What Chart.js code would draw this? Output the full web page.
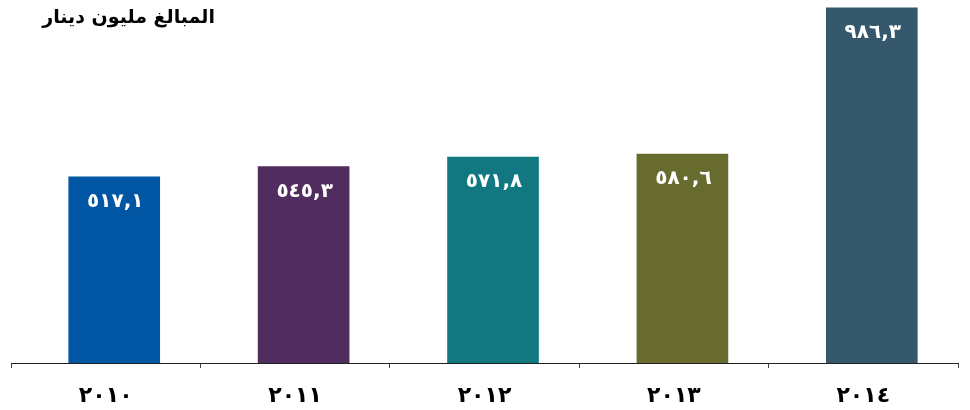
<!DOCTYPE html>
<html>
<head>
<meta charset="utf-8">
<script src="https://cdn.jsdelivr.net/npm/chart.js@4"></script>
<style>
  html, body { margin: 0; padding: 0; background: #ffffff; }
  #wrap { width: 970px; height: 410px; }
</style>
</head>
<body>
<div id="wrap"><canvas id="c" width="970" height="410"></canvas></div>
<script>
// Amounts in million dinars per year
const years = ['٢٠١٠', '٢٠١١', '٢٠١٢', '٢٠١٣', '٢٠١٤'];
const amounts = [517.1, 545.3, 571.8, 580.6, 986.3];
const barColors = ['#0056a2', '#512d5f', '#117882', '#676c2e', '#36586d'];
const unitTitle = 'المبالغ مليون دينار';

const AR_DIGITS = '٠١٢٣٤٥٦٧٨٩';
function toArabicNumber(v) {
  return v.toFixed(1).replace(/[0-9]/g, d => AR_DIGITS[+d]).replace('.', ',');
}

// Value labels inside the top of each bar, plus the unit caption
const barLabels = {
  id: 'barLabels',
  afterDatasetsDraw(chart) {
    const ctx = chart.ctx;
    const meta = chart.getDatasetMeta(0);
    ctx.save();
    ctx.fillStyle = '#ffffff';
    ctx.font = 'bold 20px "DejaVu Sans"';
    ctx.letterSpacing = '2px';
    ctx.textAlign = 'center';
    ctx.textBaseline = 'middle';
    meta.data.forEach((bar, i) => {
      ctx.fillText(toArabicNumber(amounts[i]), bar.x + 1, bar.y + 25);
    });
    ctx.restore();
  },
  afterDraw(chart) {
    const ctx = chart.ctx;
    ctx.save();
    ctx.direction = 'rtl';
    ctx.fillStyle = '#000000';
    ctx.font = 'bold 19px "DejaVu Sans"';
    ctx.textAlign = 'right';
    ctx.textBaseline = 'middle';
    ctx.fillText(unitTitle, 215, 18);
    ctx.restore();
  }
};

new Chart(document.getElementById('c'), {
  type: 'bar',
  data: {
    labels: years,
    datasets: [{
      data: amounts.map((v, i) => ({ x: i, y: v })),
      backgroundColor: barColors,
      borderWidth: 0,
      barThickness: 91,
      xAxisID: 'x',
      yAxisID: 'y'
    }]
  },
  options: {
    responsive: false,
    animation: false,
    events: [],
    layout: { padding: { top: 3, left: 11, right: 12, bottom: 0 } },
    plugins: { legend: { display: false }, tooltip: { enabled: false } },
    scales: {
      x: {
        type: 'linear',
        display: false,
        offset: false,
        bounds: 'ticks',
        min: -0.545,
        max: 4.455
      },
      x2: {
        type: 'category',
        position: 'bottom',
        labels: years,
        offset: true,
        afterFit(scale) { scale.height = 47; },
        border: { display: true, color: '#222222', width: 1 },
        grid: {
          display: true,
          offset: true,
          drawOnChartArea: false,
          drawTicks: true,
          tickLength: 5,
          color: '#444444',
          lineWidth: 1
        },
        ticks: {
          color: '#000000',
          padding: 15,
          maxRotation: 0,
          font: { family: '"DejaVu Sans"', size: 22, weight: 'bold' }
        }
      },
      y: {
        display: false,
        min: 0,
        max: 1000
      }
    }
  },
  plugins: [barLabels]
});
</script>
</body>
</html>
